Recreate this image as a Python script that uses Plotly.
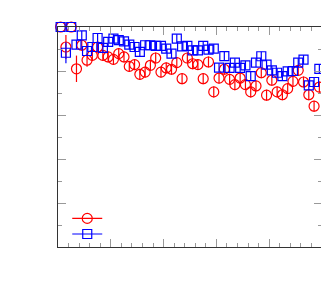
import plotly.graph_objects as go

# bin centres (x) and values (y)
x_bins = [0.05 + 0.1 * i for i in range(50)]

red_y = [1.0, 0.909, 1.0, 0.810, 0.917, 0.849, 0.871, 0.909, 0.871, 0.864,
         0.853, 0.879, 0.864, 0.821, 0.829, 0.785, 0.795, 0.826, 0.859, 0.795,
         0.814, 0.808, 0.838, 0.765, 0.859, 0.833, 0.829, 0.765, 0.841, 0.705,
         0.768, 0.808, 0.762, 0.738, 0.768, 0.738, 0.705, 0.732, 0.792, 0.690,
         0.758, 0.705, 0.692, 0.720, 0.753, 0.803, 0.750, 0.692, 0.640, 0.727]
red_err = [0.0, 0.055, 0.0, 0.06, 0.025, 0.03, 0.025, 0.025, 0.025, 0.025,
           0.025, 0.025, 0.025, 0.025, 0.025, 0.025, 0.025, 0.025, 0.025, 0.025,
           0.025, 0.025, 0.025, 0.025, 0.025, 0.025, 0.025, 0.025, 0.025, 0.025,
           0.025, 0.025, 0.025, 0.025, 0.025, 0.025, 0.025, 0.025, 0.025, 0.025,
           0.025, 0.025, 0.025, 0.025, 0.025, 0.025, 0.025, 0.025, 0.025, 0.025]

blue_y = [1.0, 0.883, 1.0, 0.920, 0.962, 0.891, 0.909, 0.950, 0.905, 0.932,
          0.947, 0.940, 0.935, 0.920, 0.909, 0.887, 0.917, 0.917, 0.914, 0.914,
          0.902, 0.879, 0.947, 0.912, 0.914, 0.894, 0.894, 0.914, 0.897, 0.902,
          0.815, 0.868, 0.814, 0.838, 0.814, 0.826, 0.777, 0.838, 0.867, 0.829,
          0.803, 0.792, 0.777, 0.798, 0.800, 0.838, 0.852, 0.735, 0.750, 0.810]
blue_err = [0.0, 0.048, 0.0] + [0.02] * 47

fig = go.Figure()

fig.add_trace(go.Scatter(
    x=x_bins, y=red_y, mode="markers", showlegend=False, cliponaxis=False,
    marker=dict(symbol="circle-open", size=10, color="#ff0000", line=dict(width=1.2)),
    error_y=dict(type="data", array=red_err, visible=True, color="#ff0000",
                 thickness=1.2, width=0),
))
fig.add_trace(go.Scatter(
    x=x_bins, y=blue_y, mode="markers", showlegend=False, cliponaxis=False,
    marker=dict(symbol="square-open", size=9, color="#0000ff", line=dict(width=1.2)),
    error_y=dict(type="data", array=blue_err, visible=True, color="#0000ff",
                 thickness=1.2, width=0),
))

# legend entries (no text in the reference)
fig.add_trace(go.Scatter(
    x=[None], y=[None], mode="lines+markers", name=" ", legend="legend",
    line=dict(color="#ff0000", width=1.2),
    marker=dict(symbol="circle-open", size=10, color="#ff0000", line=dict(width=1.2)),
))
fig.add_trace(go.Scatter(
    x=[None], y=[None], mode="lines+markers", name=" ", legend="legend2",
    line=dict(color="#0000ff", width=1.2),
    marker=dict(symbol="square-open", size=9, color="#0000ff", line=dict(width=1.2)),
))

axis_common = dict(
    showgrid=False, zeroline=False, showline=True, linecolor="#333333", linewidth=1,
    mirror="ticks", ticks="inside", tickcolor="#999999", tickwidth=1,
    showticklabels=False,
)

# the page body has an 8px margin, so the figure is sized to fit the window
fig.update_layout(
    width=321, height=281,
    margin=dict(l=50, r=7, t=19, b=42),
    paper_bgcolor="white", plot_bgcolor="white",
    xaxis=dict(range=[0, 5], dtick=1, ticklen=8,
               minor=dict(dtick=0.2, ticklen=4, ticks="inside", tickcolor="#999999", showgrid=False),
               **axis_common),
    yaxis=dict(range=[0, 1], dtick=0.2, ticklen=8,
               minor=dict(dtick=0.1, ticklen=4, ticks="inside", tickcolor="#999999", showgrid=False),
               **axis_common),
    legend=dict(x=0.035, y=0.13, xanchor="left", yanchor="middle",
                bgcolor="rgba(0,0,0,0)", font=dict(size=8), itemwidth=30),
    legend2=dict(x=0.035, y=0.059, xanchor="left", yanchor="middle",
                 bgcolor="rgba(0,0,0,0)", font=dict(size=8), itemwidth=30),
)

fig.write_html("out.html")
